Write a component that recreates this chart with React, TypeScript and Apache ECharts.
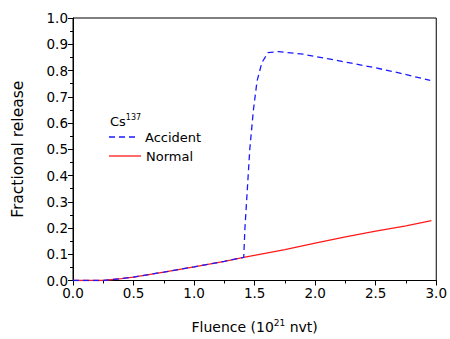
import React, { useEffect, useRef } from "react";
import * as echarts from "echarts";

const normalX = [0, 0.25, 0.4, 0.5, 0.75, 1.0, 1.25, 1.41, 1.75, 2.0, 2.25, 2.5, 2.75, 2.96];
const normalY = [0, 0, 0.007, 0.013, 0.032, 0.052, 0.073, 0.088, 0.118, 0.142, 0.166, 0.188, 0.208, 0.228];

const accidentX = [0, 0.25, 0.4, 0.5, 0.75, 1.0, 1.25, 1.41, 1.42, 1.44, 1.46, 1.49, 1.52, 1.56, 1.61, 1.7, 1.9, 2.1, 2.3, 2.5, 2.7, 2.95];
const accidentY = [0, 0, 0.007, 0.013, 0.032, 0.052, 0.073, 0.088, 0.2, 0.35, 0.5, 0.65, 0.76, 0.83, 0.868, 0.872, 0.862, 0.845, 0.828, 0.81, 0.79, 0.762];

const xTicks = [0, 0.5, 1.0, 1.5, 2.0, 2.5, 3.0];
const yTicks = [0, 0.1, 0.2, 0.3, 0.4, 0.5, 0.6, 0.7, 0.8, 0.9, 1.0];

const seriesNames = ["Accident", "Normal"];
const FONT = "DejaVu Sans, Arial, sans-serif";
const BLUE = "#1a1aff";
const RED = "#ff1a1a";

export default function App() {
  const ref = useRef<HTMLDivElement>(null);
  useEffect(() => {
    if (!ref.current) return;
    const chart = echarts.init(ref.current, null, { renderer: "svg" });
    const axisCommon = {
      axisLine: { show: true, onZero: false, lineStyle: { color: "#000", width: 1 } },
      axisTick: { show: true, inside: false, length: 5, lineStyle: { color: "#000" } },
      minorTick: { show: true, splitNumber: 2, length: 3, lineStyle: { color: "#000" } },
      splitLine: { show: false },
      axisLabel: { color: "#000", fontSize: 13.5, fontFamily: FONT, margin: 5, formatter: (v: number) => v.toFixed(1) },
      nameTextStyle: { color: "#000", fontSize: 14, fontFamily: FONT },
    };
    chart.setOption({
      animation: false,
      backgroundColor: "#fff",
      grid: { left: 73, right: 11, top: 18, bottom: 53, show: true, borderColor: "#000", borderWidth: 1, backgroundColor: "transparent" },
      xAxis: {
        type: "value",
        min: xTicks[0],
        max: xTicks[xTicks.length - 1],
        interval: 0.5,
        name: "Fluence (10{sup|21} nvt)",
        nameLocation: "middle",
        nameGap: 38,
        ...axisCommon,
        nameTextStyle: {
          ...axisCommon.nameTextStyle,
          rich: { sup: { fontSize: 9, fontFamily: FONT, color: "#000", verticalAlign: "top", padding: [0, 0, 8, 0] } },
        },
      },
      yAxis: {
        type: "value",
        min: yTicks[0],
        max: yTicks[yTicks.length - 1],
        interval: 0.1,
        name: "Fractional release",
        nameLocation: "middle",
        nameGap: 47,
        ...axisCommon,
        nameTextStyle: { ...axisCommon.nameTextStyle, fontSize: 15.5 },
      },
      graphic: [
        {
          type: "text",
          x: 110,
          y: 113,
          style: {
            text: "Cs{sup|137}",
            fill: "#000",
            font: `13px ${FONT}`,
            rich: { sup: { fontSize: 8, fontFamily: FONT, fill: "#000", verticalAlign: "top", padding: [0, 0, 8, 0] } },
          },
        },
        {
          type: "line",
          shape: { x1: 109, y1: 137, x2: 139, y2: 137 },
          style: { stroke: BLUE, lineWidth: 1.3, lineDash: [6, 4] },
        },
        {
          type: "text",
          x: 145,
          y: 137,
          style: { text: seriesNames[0], fill: "#000", font: `13px ${FONT}`, verticalAlign: "middle" },
        },
        {
          type: "line",
          shape: { x1: 109, y1: 156, x2: 141, y2: 156 },
          style: { stroke: RED, lineWidth: 1.3 },
        },
        {
          type: "text",
          x: 146,
          y: 156,
          style: { text: seriesNames[1], fill: "#000", font: `13px ${FONT}`, verticalAlign: "middle" },
        },
      ],
      series: [
        {
          name: seriesNames[1],
          type: "line",
          showSymbol: false,
          symbol: "none",
          data: normalX.map((x, i) => [x, normalY[i]]),
          lineStyle: { color: RED, width: 1.3 },
          itemStyle: { color: RED },
          z: 2,
        },
        {
          name: seriesNames[0],
          type: "line",
          showSymbol: false,
          symbol: "none",
          data: accidentX.map((x, i) => [x, accidentY[i]]),
          lineStyle: { color: BLUE, width: 1.3, type: [6, 4] },
          itemStyle: { color: BLUE },
          z: 3,
        },
      ],
    });
    return () => chart.dispose();
  }, []);
  return (
    <div
      ref={ref}
      style={{ position: "fixed", left: 0, top: 0, width: 450, height: 339, background: "#fff" }}
    />
  );
}
